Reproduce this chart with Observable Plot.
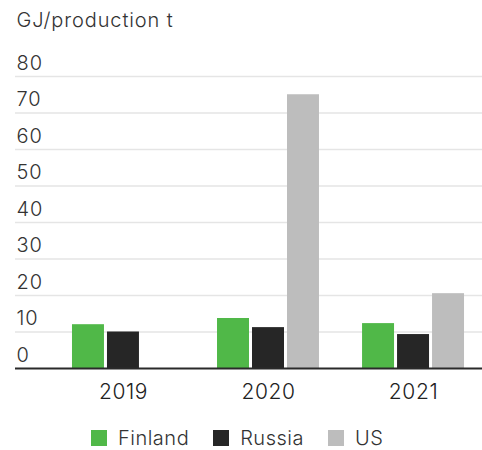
<!DOCTYPE html>
<html><head><meta charset="utf-8">
<script src="https://cdn.jsdelivr.net/npm/d3@7"></script>
<script src="https://cdn.jsdelivr.net/npm/@observablehq/plot@0.6"></script>
<style>
html,body{margin:0;padding:0;background:#fff;overflow:hidden}
#wrap{position:relative;width:482px;height:450px;font-family:Inter,"Noto Sans",sans-serif}
.layer{position:absolute;left:0;top:0}
#legend{position:absolute;top:426px;left:91px;width:391px}
#legend .lg-swatches{font-family:Inter,"Noto Sans",sans-serif;font-size:20px;font-weight:300;letter-spacing:0.5px;color:#333;min-height:0;margin:0;flex-wrap:nowrap}
#legend .lg-swatch{margin-right:24px}
#legend .lg-swatch > svg{margin-right:11px}
</style></head><body>
<div id="wrap"><div id="bg" class="layer"></div><div id="fg" class="layer"></div><div id="overlay" class="layer"></div><div id="legend"></div></div>
<script>
const years = ["2019", "2020", "2021"];
const countries = ["Finland", "Russia", "US"];
const finland = [12.0, 13.7, 12.3];
const russia = [10.0, 11.2, 9.3];
const us = [null, 75.0, 20.5];
const yTicks = [0, 10, 20, 30, 40, 50, 60, 70, 80];
const colors = ["#50b848", "#262626", "#bdbdbd"];
const unitLabel = "GJ/production t";

const series = {Finland: finland, Russia: russia, US: us};
const data = years.flatMap((year, i) => countries.map(country => ({year, country, value: series[country][i]})))
  .filter(d => d.value != null);

const W = 482, H = 405, MT = 76, MB = 37;
const font = 'Inter, "Noto Sans", sans-serif';

const bgPlot = Plot.plot({
  width: W, height: H, marginTop: MT, marginBottom: MB, marginLeft: 15, marginRight: 0,
  y: {domain: [0, 80], axis: null},
  style: {background: "transparent", fontFamily: font, letterSpacing: "0.9px"},
  marks: [
    Plot.ruleY(yTicks.filter(d => d > 0), {stroke: "#e5e5e5", strokeWidth: 1.7}),
    Plot.text(yTicks, {y: d => d, text: d => String(d), frameAnchor: "left", textAnchor: "start", lineAnchor: "bottom", dx: 1, dy: -7, fill: "#333", fontSize: 20, fontWeight: 300}),
    Plot.text([unitLabel], {frameAnchor: "top-left", textAnchor: "start", lineAnchor: "bottom", dx: 1, dy: -50, fill: "#333", fontSize: 20, fontWeight: 300})
  ]
});
document.getElementById("bg").appendChild(bgPlot);

const fgPlot = Plot.plot({
  width: W, height: H, marginTop: MT, marginBottom: MB, marginLeft: 54, marginRight: 0,
  fx: {domain: years, paddingInner: 0.297, paddingOuter: 0.124, round: false, axis: null, label: null},
  x: {domain: countries, paddingInner: 0.086, paddingOuter: 0, round: false, axis: null},
  y: {domain: [0, 80], axis: null},
  color: {domain: countries, range: colors},
  style: {background: "transparent", fontFamily: font, letterSpacing: "0.6px"},
  marks: [
    Plot.barY(data, {fx: "year", x: "country", y: "value", fill: "country"}),
    Plot.text(years, {fx: d => d, text: d => d, frameAnchor: "bottom", lineAnchor: "bottom", dy: 30, fontSize: 21, fontWeight: 300, fill: "#222"})
  ]
});
document.getElementById("fg").appendChild(fgPlot);

const basePlot = Plot.plot({
  width: W, height: H, marginTop: MT, marginBottom: MB, marginLeft: 15, marginRight: 0,
  y: {domain: [0, 80], axis: null},
  style: {background: "transparent"},
  marks: [Plot.ruleY([0], {stroke: "#2a2a2a", strokeWidth: 2})]
});
document.getElementById("overlay").appendChild(basePlot);

const lg = Plot.legend({color: {domain: countries, range: colors}, legend: "swatches", swatchSize: 16, className: "lg"});
document.getElementById("legend").appendChild(lg);
</script>
</body></html>
